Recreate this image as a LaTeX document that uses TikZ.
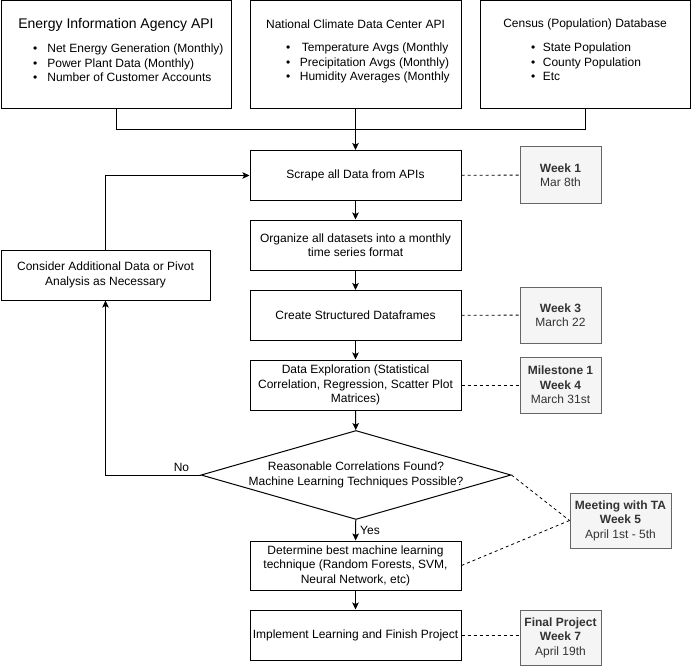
\documentclass[tikz,border=0pt]{standalone}
\usepackage{fontspec}
\setmainfont{Liberation Sans}
\usetikzlibrary{shapes.geometric,arrows.meta}
\definecolor{notefill}{HTML}{F5F5F5}
\definecolor{noteline}{HTML}{666666}
\definecolor{notetext}{HTML}{333333}
\begin{document}
\begin{tikzpicture}[x=1pt,y=-1pt,
  txt/.style={font=\fontsize{12}{14.5}\selectfont},
  box/.style={txt,draw,line width=1pt,fill=white,inner sep=0pt,align=center},
  srcbox/.style={draw,line width=1pt,inner sep=0pt,minimum height=108pt},
  stepbox/.style={box,minimum width=211pt,minimum height=50pt},
  note/.style={txt,draw=noteline,fill=notefill,text=notetext,line width=1pt,
    inner sep=0pt,align=center,minimum width=81pt,minimum height=56pt},
  link/.style={line width=1pt,-{Stealth[length=7pt,width=6.5pt,inset=1.5pt]}},
  tie/.style={line width=0.8pt,dash pattern=on 3pt off 3pt},
  bullets/.style={txt,anchor=west,inner sep=0pt,align=left}]
\useasboundingbox (0,0) rectangle (691,666);

% data sources
\node[srcbox,minimum width=230pt] (eia) at (116,55) {};
\node[font=\fontsize{14}{17}\selectfont] (eiaT) at (116,25) {Energy Information Agency API};
\node[bullets] (eiaL) at (33,64.5) {\begin{tabular}{@{}l@{\hspace{10pt}}l@{}}
  •&Net Energy Generation (Monthly)\\ •&Power Plant Data (Monthly)\\ •&Number of Customer Accounts\end{tabular}};

\node[srcbox,minimum width=211pt] (ncdc) at (355.5,55) {};
\node[txt] (ncdcT) at (355.5,24) {National Climate Data Center API};
\node[bullets] (ncdcL) at (286,63.5) {\begin{tabular}{@{}l@{\hspace{9.5pt}}l@{}}
  •&\hspace{2pt}Temperature Avgs (Monthly\\ •&Precipitation Avgs (Monthly)\\ •&Humidity Averages (Monthly\end{tabular}};

\node[srcbox,minimum width=210pt] (census) at (585,55) {};
\node[txt] (censusT) at (585,24.5) {Census (Population) Database};
\node[bullets] (censusL) at (531,63.5) {\begin{tabular}{@{}l@{\hspace{7.5pt}}l@{}}
  •&State Population\\ •&County Population\\ •&Etc\end{tabular}};

% main flow
\node[stepbox] (scrape) at (355.5,175.5) {Scrape all Data from APIs};
\node[stepbox] (organize) at (355.5,245) {Organize all datasets into a monthly\\time series format};
\node[stepbox] (frames) at (355.5,315.5) {Create Structured Dataframes};
\node[stepbox] (explore) at (355.5,385) {Data Exploration (Statistical\\Correlation, Regression, Scatter Plot\\Matrices)};
\node[txt,diamond,aspect=3.44,draw,line width=1pt,fill=white,inner sep=0pt,align=center,
  minimum width=310pt,minimum height=89pt] (decide) at (356,475)
  {Reasonable Correlations Found?\\Machine Learning Techniques Possible?};
\node[stepbox,minimum height=49pt] (choose) at (355.5,565.5) {Determine best machine learning\\technique (Random Forests, SVM,\\Neural Network, etc)};
\node[stepbox] (finish) at (355.5,635) {Implement Learning and Finish Project};
\node[box,minimum width=209pt,minimum height=50pt] (pivot) at (105.5,275) {Consider Additional Data or Pivot\\Analysis as Necessary};

% schedule notes
\node[note] (w1) at (560.5,175) {\textbf{Week 1}\\Mar 8th};
\node[note] (w3) at (560.5,315) {\textbf{Week 3}\\March 22};
\node[note] (w4) at (560.5,385) {\textbf{Milestone 1}\\\textbf{Week 4}\\March 31st};
\node[note,minimum width=101pt,minimum height=55pt] (w5) at (620.5,520.5) {\textbf{Meeting with TA}\\\textbf{Week 5}\\April 1st - 5th};
\node[note,minimum height=55pt] (w7) at (560.5,637.5) {\textbf{Final Project}\\\textbf{Week 7}\\April 19th};

% connectors
\draw[line width=1pt] (eia.south) -- (eia.south |- 0,130) -| (census.south);
\draw[link] (ncdc.south) -- (scrape.north);
\draw[link] (scrape) -- (organize);
\draw[link] (organize) -- (frames);
\draw[link] (frames) -- (explore);
\draw[link] (explore) -- (decide);
\draw[link] (decide) -- node[txt,right,pos=0.5,inner sep=4pt] {Yes} (choose);
\draw[link] (choose) -- (finish);
\draw[link] (decide.west) -| node[txt,above,pos=0.1,inner sep=3pt] {No} (pivot.south);
\draw[link] (pivot.north) |- (scrape.west);

\draw[tie] (scrape) -- (w1);
\draw[tie] (frames) -- (w3);
\draw[tie] (explore) -- (w4);
\draw[tie] (decide.east) -- (w5.west);
\draw[tie] (choose.east) -- (w5.west);
\draw[tie] (finish) -- (finish -| w7.west);
\end{tikzpicture}
\end{document}
